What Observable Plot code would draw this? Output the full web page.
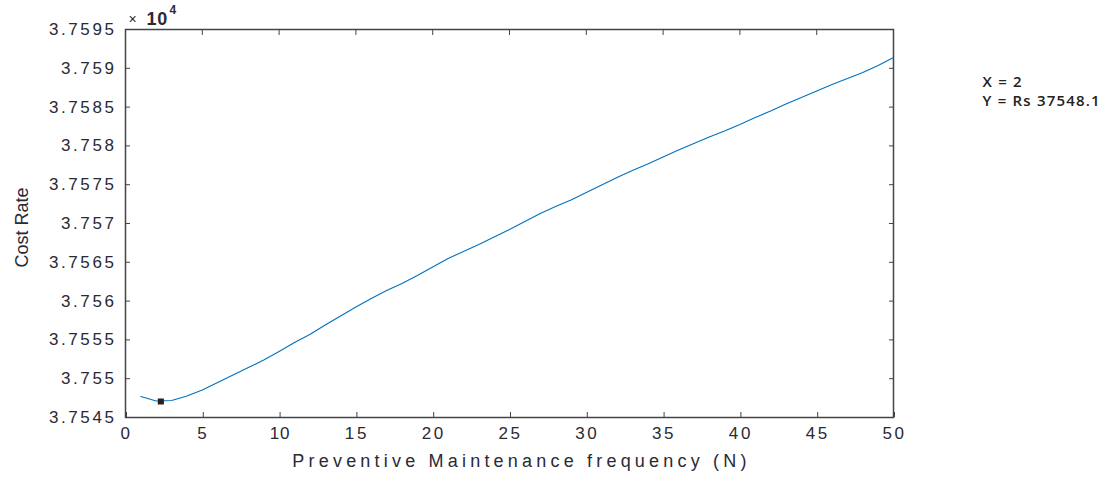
<!DOCTYPE html>
<html><head><meta charset="utf-8">
<script src="https://cdn.jsdelivr.net/npm/d3@7"></script>
<script src="https://cdn.jsdelivr.net/npm/@observablehq/plot@0.6"></script>
<style>
body{margin:0;background:#fff;}
g[aria-label="y-axis tick label"], g[aria-label="x-axis tick label"] {font-size: 17px;}
g[aria-label="y-axis tick label"] text, g[aria-label="x-axis tick label"] text {letter-spacing: 2.6px;}
</style></head><body><div id="chart"></div>
<script>
// Preventive maintenance frequency N
const freqN = [1,2,3,4,5,6,7,8,9,10,11,12,13,14,15,16,17,18,19,20,21,22,23,24,25,26,27,28,29,30,31,32,33,34,35,36,37,38,39,40,41,42,43,44,45,46,47,48,49,50];
// Cost rate (Rs)
const costRate = [37547.71,37547.13,37547.19,37547.77,37548.54,37549.51,37550.48,37551.44,37552.41,37553.51,
  37554.66,37555.70,37556.92,37558.08,37559.24,37560.34,37561.37,37562.27,37563.30,37564.39,
  37565.49,37566.39,37567.29,37568.26,37569.23,37570.26,37571.29,37572.19,37573.03,37574.00,
  37574.96,37575.93,37576.83,37577.67,37578.57,37579.47,37580.31,37581.15,37581.92,37582.76,
  37583.66,37584.50,37585.40,37586.24,37587.07,37587.91,37588.69,37589.46,37590.36,37591.39];
// Data-tip marker (minimum)
const markerN = [2.3];
const markerCost = [37547.06];
const tipLines = ["X = 2", "Y = Rs 37548.1"];
const xTicks = [0,5,10,15,20,25,30,35,40,45,50];
const yTicks = [3.7545,3.755,3.7555,3.756,3.7565,3.757,3.7575,3.758,3.7585,3.759,3.7595];

const rows = freqN.map((n,i)=>({N:n, rate: costRate[i]/1e4}));
const marks = markerN.map((n,i)=>({N:n, rate: markerCost[i]/1e4}));
const fmt = d => String(+d.toFixed(4));
const txtColor = "#2a2a35";

const chart = Plot.plot({
  width: 1113, height: 477,
  marginLeft: 125, marginRight: 220, marginTop: 29, marginBottom: 60,
  style: {fontFamily: "'Liberation Sans', Arial, sans-serif", fontSize: "16px", color: txtColor, background: "#fff"},
  x: {domain: [0,50]},
  y: {domain: [3.7545,3.7595]},
  marks: [
    Plot.axisX({anchor:"bottom", ticks: xTicks, tickSize: -5, tickPadding: 14, tickFormat: d=>String(d), label: null, stroke: "#444", fontSize: 17, dx: 1}),
    Plot.axisX({anchor:"top", ticks: xTicks, tickSize: -5, tickFormat: ()=>"", label: null, stroke: "#444"}),
    Plot.axisY({anchor:"left", ticks: yTicks, tickSize: -5, tickPadding: 14, tickFormat: fmt, label: null, stroke: "#444", fontSize: 17}),
    Plot.axisY({anchor:"right", ticks: yTicks, tickSize: -5, tickFormat: ()=>"", label: null, stroke: "#444"}),
    Plot.frame({stroke: "#444", strokeWidth: 1.5}),
    Plot.line(rows, {x: "N", y: "rate", stroke: "#0072BD", strokeWidth: 1.1}),
    Plot.dot(marks, {x: "N", y: "rate", symbol: "square", r: 2.6, fill: "#222", stroke: "#222"}),
    Plot.text(["Cost Rate"], {frameAnchor: "left", textAnchor: "middle", dx: -103, dy: 4, rotate: -90, fontSize: 18, fontFamily: "'Liberation Sans Narrow', 'Liberation Sans', sans-serif", fill: txtColor}),
    Plot.text(["Preventive Maintenance frequency (N)"], {frameAnchor: "bottom", textAnchor: "middle", dx: 12, dy: 49, fontSize: 18, fill: txtColor, fontFamily: "'Liberation Sans', sans-serif"}),
    Plot.text(["\u00d7"], {frameAnchor: "top-left", textAnchor: "start", lineAnchor: "bottom", dx: 3, dy: -6, fontSize: 14, fill: txtColor}),
    Plot.text(["10"], {frameAnchor: "top-left", textAnchor: "start", lineAnchor: "bottom", dx: 21, dy: -5, fontSize: 18, fontWeight: "bold", fill: txtColor}),
    Plot.text(["4"], {frameAnchor: "top-left", textAnchor: "start", lineAnchor: "bottom", dx: 44, dy: -16, fontSize: 12, fontWeight: "bold", fill: txtColor}),
    Plot.text([tipLines[0]], {frameAnchor: "top-right", textAnchor: "start", lineAnchor: "middle", dx: 89, dy: 53, fontSize: 15, fontWeight: 600, fontFamily: "'Open Sans', sans-serif", fill: "#222"}),
    Plot.text([tipLines[1]], {frameAnchor: "top-right", textAnchor: "start", lineAnchor: "middle", dx: 89, dy: 72, fontSize: 15, fontWeight: 600, fontFamily: "'Open Sans', sans-serif", fill: "#222"})
  ]
});
document.getElementById("chart").appendChild(chart);
// letter-spacing (not a Plot option)
const sel = d3.select(chart).selectAll("text");
sel.filter(function(){ return this.textContent === "Preventive Maintenance frequency (N)"; }).style("letter-spacing", "4.2px");
sel.filter(function(){ return this.textContent === tipLines[0] || this.textContent === tipLines[1]; }).style("letter-spacing", "1.2px");
sel.filter(function(){ return this.textContent === "10"; }).style("letter-spacing", "0.8px");
</script></body></html>
